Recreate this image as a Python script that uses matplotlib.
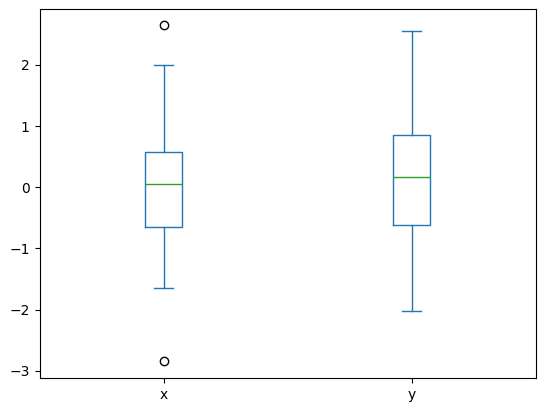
import matplotlib
matplotlib.use("Agg")
import matplotlib.pyplot as plt

labels = ["x", "y"]
q1 = [-0.654, -0.616]
med = [0.054, 0.163]
q3 = [0.572, 0.85]
whislo = [-1.65, -2.02]
whishi = [1.995, 2.549]
fliers = [[2.647, -2.843], []]

stats = []
for i in range(len(labels)):
    stats.append(dict(label=labels[i], q1=q1[i], med=med[i], q3=q3[i],
                      whislo=whislo[i], whishi=whishi[i], fliers=fliers[i]))

fig = plt.figure(figsize=(5.44, 4.11), dpi=100)
ax = fig.add_axes([39.5/544, 1-378/411, (535.5-39.5)/544, (378-9.3)/411])
c = "#1f77b4"
ax.bxp(stats, widths=0.15,
       boxprops=dict(color=c), whiskerprops=dict(color=c), capprops=dict(color=c),
       medianprops=dict(color="#2ca02c"),
       flierprops=dict(marker="o", markerfacecolor="none", markeredgecolor="black"))
ax.set_xlim(0.5, 2.5)
ax.set_ylim(-3.116, 2.908)
ax.set_yticks([-3, -2, -1, 0, 1, 2])
fig.savefig("out.png")
